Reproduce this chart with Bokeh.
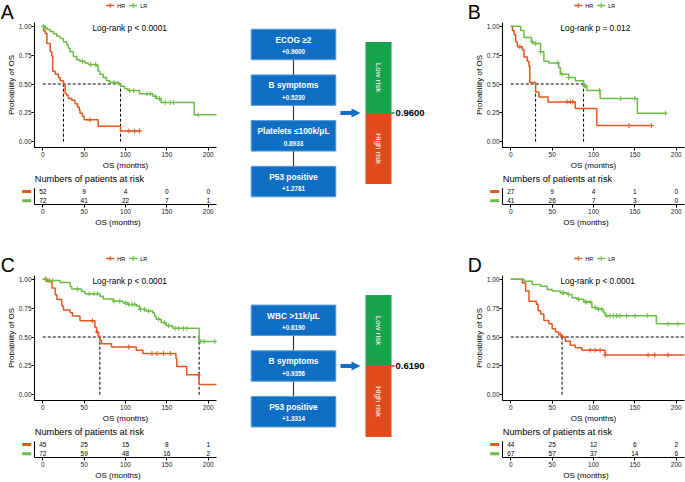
import numpy as np
from bokeh.plotting import figure
from bokeh.models import Range1d, FixedTicker, NumeralTickFormatter, Spacer
from bokeh.layouts import row, column
from bokeh.embed import file_html
from bokeh.resources import INLINE
from bokeh.core.properties import value

FONT = "Liberation Sans"
HR_COLOR = "#E8561E"
LR_COLOR = "#6CBD45"
BOX_BLUE = "#0F6FC4"
BOX_EDGE = "#5E9DD8"
LOW_GREEN = "#17A24C"
HIGH_RED = "#E14A1B"

# ---------------- data ----------------
groups = ["HR", "LR"]
risk_times = [0, 50, 100, 150, 200]

# Panel A
A_pval = "Log-rank  p < 0.0001"
A_hr_t = [0, 1, 3, 5, 9, 11, 12, 15, 19, 21, 25, 27, 29, 31, 35, 39, 42, 44, 45, 48, 50, 67, 94, 118]
A_hr_s = [1.0, 0.96, 0.94, 0.85, 0.78, 0.74, 0.61, 0.585, 0.556, 0.528, 0.495, 0.416, 0.40, 0.374, 0.36, 0.33, 0.30, 0.275, 0.247, 0.22, 0.19, 0.135, 0.093, 0.093]
A_hr_cens = [57, 104, 111, 117]
A_lr_t = [0, 3, 5, 9, 13, 17, 21, 25, 29, 31, 33, 37, 41, 45, 51, 55, 65, 67, 69, 73, 77, 81, 91, 94, 99, 103, 117, 133, 137, 143, 183, 215]
A_lr_s = [1.0, 0.986, 0.972, 0.956, 0.936, 0.913, 0.894, 0.865, 0.837, 0.81, 0.78, 0.739, 0.711, 0.697, 0.683, 0.669, 0.655, 0.613, 0.585, 0.556, 0.528, 0.514, 0.505, 0.48, 0.458, 0.444, 0.416, 0.393, 0.374, 0.34, 0.233, 0.233]
A_lr_cens = [1, 3, 48, 58, 64, 86, 92, 105, 110, 126, 130, 136, 141, 148, 154, 158, 188]
A_hr_risk = [52, 9, 4, 0, 0]
A_lr_risk = [72, 41, 22, 7, 1]
A_factors = ["ECOG \u22652", "B symptoms", "Platelets \u2264100k/\u03bcL", "P53 positive"]
A_coefs = ["+0.9600", "+0.5230", "0.8933", "+1.2781"]
A_cutoff = "0.9600"

# Panel B
B_pval = "Log-rank  p = 0.012"
B_hr_t = [0, 2, 4, 6, 8, 14, 16, 20, 22, 23, 30, 34, 45, 78, 104, 170]
B_hr_s = [1.0, 0.963, 0.926, 0.865, 0.823, 0.795, 0.733, 0.697, 0.654, 0.514, 0.43, 0.388, 0.345, 0.288, 0.14, 0.14]
B_hr_cens = [11, 68, 72, 75, 143, 170]
B_lr_t = [0, 12, 16, 25, 27, 36, 40, 46, 58, 60, 70, 78, 88, 92, 108, 153, 187]
B_lr_s = [1.0, 0.963, 0.902, 0.865, 0.85, 0.78, 0.697, 0.683, 0.64, 0.585, 0.556, 0.528, 0.486, 0.444, 0.374, 0.247, 0.247]
B_lr_cens = [26, 30, 36, 57, 62, 70, 89, 90, 107, 133, 150, 187]
B_hr_risk = [27, 9, 4, 1, 0]
B_lr_risk = [41, 26, 7, 3, 0]

# Panel C
C_pval = "Log-rank  p < 0.0001"
C_hr_t = [0, 5, 11, 15, 17, 23, 25, 33, 36, 45, 63, 65, 67, 69, 71, 83, 113, 121, 161, 162, 174, 189, 212]
C_hr_s = [1.0, 0.98, 0.924, 0.867, 0.824, 0.768, 0.734, 0.711, 0.683, 0.64, 0.584, 0.541, 0.507, 0.47, 0.442, 0.414, 0.385, 0.357, 0.314, 0.244, 0.173, 0.088, 0.088]
C_hr_cens = [4, 60, 66, 104, 132, 138, 146, 154, 188]
C_lr_t = [0, 5, 21, 33, 35, 47, 51, 69, 73, 85, 97, 103, 113, 117, 125, 133, 135, 137, 143, 149, 157, 189, 212]
C_lr_s = [1.0, 0.99, 0.972, 0.938, 0.915, 0.895, 0.875, 0.853, 0.83, 0.81, 0.796, 0.782, 0.768, 0.739, 0.725, 0.711, 0.683, 0.654, 0.626, 0.598, 0.575, 0.462, 0.462]
C_lr_cens = [3, 8, 12, 42, 56, 62, 66, 86, 93, 100, 104, 108, 111, 118, 123, 128, 140, 147, 152, 160, 164, 170, 174, 191, 195, 208]
C_hr_risk = [45, 25, 15, 8, 1]
C_lr_risk = [72, 59, 48, 16, 2]
C_factors = ["WBC >11k/\u03bcL", "B symptoms", "P53 positive"]
C_coefs = ["+0.6190", "+0.9356", "+1.3314"]
C_cutoff = "0.6190"

# Panel D
D_pval = "Log-rank  p < 0.0001"
D_hr_t = [0, 14, 18, 22, 31, 33, 36, 40, 46, 50, 54, 58, 62, 66, 72, 78, 86, 114, 212]
D_hr_s = [1.0, 0.969, 0.898, 0.81, 0.784, 0.727, 0.699, 0.642, 0.614, 0.571, 0.543, 0.52, 0.5, 0.463, 0.429, 0.406, 0.386, 0.344, 0.344]
D_hr_cens = [60, 96, 102, 108, 114, 166, 174, 190]
D_lr_t = [0, 16, 26, 36, 44, 50, 60, 68, 74, 80, 88, 98, 104, 112, 114, 176, 212]
D_lr_s = [1.0, 0.983, 0.955, 0.94, 0.912, 0.898, 0.884, 0.869, 0.841, 0.827, 0.804, 0.756, 0.741, 0.713, 0.685, 0.614, 0.614]
D_lr_cens = [62, 64, 70, 82, 90, 92, 96, 102, 106, 110, 116, 120, 124, 128, 132, 140, 150, 165, 190, 202]
D_hr_risk = [44, 25, 12, 6, 2]
D_lr_risk = [67, 57, 37, 14, 6]

# ---------------- layout constants ----------------
FW = 182                      # KM frame width (px) for x -10..210
K = FW / 220.0                # px per month
STRIP_H = 22
KM_H = 150
KM_BB = 22
PX_UNIT = 118.2
KM_YTOP = -0.05 + (KM_H - KM_BB) / PX_UNIT
RISK_H = 57
RISK_BB = 21
ROW_PX = 10.5
R_YB = 0.6
R_YT = R_YB + (RISK_H - RISK_BB) / ROW_PX
EXT = 15                      # extra px left of risk table frame
FLOW_W = 241
ROW_H = STRIP_H + KM_H + RISK_H
BL1, BR1 = 34, 10
BL3, BR3 = 35, 1


def step_at(t, s, x):
    idx = np.searchsorted(np.asarray(t), np.asarray(x), side="right") - 1
    return np.asarray(s)[idx]


def median_time(t, s):
    for ti, si in zip(t, s):
        if si <= 0.5:
            return ti
    return None


def bare(p):
    p.outline_line_color = None
    p.xgrid.visible = False
    p.ygrid.visible = False


def style_axis(ax, fs="6.5px"):
    ax.axis_line_color = "black"
    ax.axis_line_width = 1.1
    ax.major_tick_line_color = "black"
    ax.major_tick_out = 3
    ax.major_tick_in = 0
    ax.minor_tick_line_color = None
    ax.major_label_text_font = FONT
    ax.major_label_text_font_size = fs
    ax.major_label_text_color = "#222222"
    ax.major_label_standoff = 1
    ax.axis_label_text_font = FONT
    ax.axis_label_text_font_size = "8px"
    ax.axis_label_text_font_style = "normal"
    ax.axis_label_text_color = "black"
    ax.axis_label_standoff = 1


def strip_panel(letter, bl, br):
    w = bl + FW + br
    s = figure(width=w, height=STRIP_H, x_range=Range1d(0, w), y_range=Range1d(STRIP_H, 0),
               output_backend="svg", toolbar_location=None, min_border=0)
    bare(s)
    s.xaxis.visible = False
    s.yaxis.visible = False
    s.text(x=[0.3], y=[11.0], text=[letter], text_font=value(FONT), text_font_size="19.5px",
           text_align="left", text_baseline="middle", text_color="black")
    c = bl + FW / 2
    ly = 5
    cols = [HR_COLOR, LR_COLOR]
    gx = [c - 19.3, c + 3.7]
    s.segment(x0=gx, y0=[ly, ly], x1=[g + 8 for g in gx], y1=[ly, ly], line_color=cols, line_width=1.4)
    s.scatter([g + 4 for g in gx], [ly, ly], marker="cross", size=5, line_color=cols, line_width=1)
    s.text(x=[g + 11 for g in gx], y=[ly, ly], text=groups, text_font=value(FONT),
           text_font_size="5.5px", text_align="left", text_baseline="middle", text_color="black")
    return s


def km_panel(pval, hr_t, hr_s, hr_c, lr_t, lr_s, lr_c, bl, br):
    p = figure(width=bl + FW + br, height=KM_H, x_range=Range1d(-10, 210),
               y_range=Range1d(-0.05, KM_YTOP), output_backend="svg", toolbar_location=None,
               min_border_left=bl, min_border_right=br, min_border_top=0, min_border_bottom=KM_BB)
    bare(p)
    p.xaxis.ticker = FixedTicker(ticks=risk_times)
    p.yaxis.ticker = FixedTicker(ticks=[0, 0.25, 0.5, 0.75, 1.0])
    p.yaxis.formatter = NumeralTickFormatter(format="0.00")
    p.xaxis.axis_label = "OS (months)"
    p.yaxis.axis_label = "Probability of OS"
    style_axis(p.xaxis)
    style_axis(p.yaxis)
    p.yaxis.major_label_standoff = 0
    p.yaxis.axis_label_standoff = 0

    meds = [median_time(hr_t, hr_s), median_time(lr_t, lr_s)]
    valid = [m for m in meds if m is not None]
    hend = 210 if (None in meds) else max(valid)
    p.segment(x0=[0], y0=[0.5], x1=[hend], y1=[0.5], line_color="black", line_width=1, line_dash="3 2")
    p.segment(x0=valid, y0=[0] * len(valid), x1=valid, y1=[0.5] * len(valid),
              line_color="black", line_width=1, line_dash="3 2")

    p.step(hr_t, hr_s, mode="after", line_color=HR_COLOR, line_width=1.5)
    p.step(lr_t, lr_s, mode="after", line_color=LR_COLOR, line_width=1.5)
    p.scatter(hr_c, step_at(hr_t, hr_s, hr_c), marker="cross", size=5, line_color=HR_COLOR, line_width=1)
    p.scatter(lr_c, step_at(lr_t, lr_s, lr_c), marker="cross", size=5, line_color=LR_COLOR, line_width=1)

    p.text(x=[60], y=[0.988], text=[pval], text_font=value(FONT), text_font_size="8.3px",
           text_align="left", text_baseline="middle", text_color="black")
    return p


def risk_panel(hr_risk, lr_risk, bl, br):
    r = figure(width=bl - EXT + FW + EXT + br, height=RISK_H,
               x_range=Range1d(-10 - EXT / K, 210), y_range=Range1d(R_YB, R_YT),
               output_backend="svg", toolbar_location=None,
               min_border_left=bl - EXT, min_border_right=br, min_border_top=0,
               min_border_bottom=RISK_BB)
    bare(r)
    r.yaxis.visible = False
    r.xaxis.bounds = (-10, 210)
    r.xaxis.ticker = FixedTicker(ticks=risk_times)
    r.xaxis.axis_label = "OS (months)"
    style_axis(r.xaxis)

    r.segment(x0=[-10], y0=[R_YB], x1=[-10], y1=[2.33], line_color="black", line_width=1.1)
    r.segment(x0=[-24.9, -24.9], y0=[2, 1], x1=[-14.0, -14.0], y1=[2, 1],
              line_color=[HR_COLOR, LR_COLOR], line_width=3)
    r.text(x=risk_times, y=[2] * 5, text=[str(v) for v in hr_risk], text_font=value(FONT),
           text_font_size="6.5px", text_align="center", text_baseline="middle", text_color="black")
    r.text(x=risk_times, y=[1] * 5, text=[str(v) for v in lr_risk], text_font=value(FONT),
           text_font_size="6.5px", text_align="center", text_baseline="middle", text_color="black")
    r.text(x=[-9.6], y=[3.33], text=["Numbers of patients at risk"], text_font=value(FONT),
           text_font_size="9.2px", text_align="left", text_baseline="middle", text_color="black")
    return r


def flow_panel(factors, coefs, cutoff):
    f = figure(width=FLOW_W, height=ROW_H, x_range=Range1d(0, FLOW_W), y_range=Range1d(ROW_H, 0),
               output_backend="svg", toolbar_location=None, min_border=0)
    bare(f)
    f.xaxis.visible = False
    f.yaxis.visible = False

    n = len(factors)
    bh, gap, cy = 30.5, 15.2, 112.5
    bx0, bx1 = 24.7, 109.3
    top0 = cy - (n * bh + (n - 1) * gap) / 2
    tops = [top0 + i * (bh + gap) for i in range(n)]
    bots = [t + bh for t in tops]
    xm = (bx0 + bx1) / 2
    f.segment(x0=[xm] * (n - 1), y0=bots[:-1], x1=[xm] * (n - 1), y1=tops[1:],
              line_color="#333333", line_width=1.2)
    f.quad(left=[bx0] * n, right=[bx1] * n, top=tops, bottom=bots,
           fill_color=BOX_BLUE, line_color=BOX_EDGE, line_width=1)
    f.text(x=[xm] * n, y=[t + 10.5 for t in tops], text=factors, text_font=value(FONT),
           text_font_size="8.3px", text_font_style="bold", text_color="white",
           text_align="center", text_baseline="middle")
    f.text(x=[xm] * n, y=[t + 22.5 for t in tops], text=coefs, text_font=value(FONT),
           text_font_size="6.3px", text_font_style="bold", text_color="white",
           text_align="center", text_baseline="middle")
    # arrow
    f.quad(left=[114], right=[126], top=[cy - 2], bottom=[cy + 2], fill_color=BOX_BLUE, line_color=None)
    f.patch(x=[125, 134, 125], y=[cy - 4.5, cy, cy + 4.5], fill_color=BOX_BLUE, line_color=None)
    # risk bar
    bar_h = 142
    bar_l, bar_r = 139, 165
    f.quad(left=[bar_l, bar_l], right=[bar_r, bar_r], top=[cy - bar_h / 2, cy],
           bottom=[cy, cy + bar_h / 2], fill_color=[LOW_GREEN, HIGH_RED], line_color=None)
    f.text(x=[(bar_l + bar_r) / 2] * 2, y=[cy - bar_h / 4, cy + bar_h / 4], text=["Low risk", "High risk"],
           angle=-np.pi / 2, text_font=value(FONT), text_font_size="8px", text_color="white",
           text_align="center", text_baseline="middle")
    f.segment(x0=[bar_r], y0=[cy], x1=[bar_r + 3], y1=[cy], line_color="black", line_width=1)
    f.text(x=[bar_r + 4], y=[cy], text=[cutoff], text_font=value(FONT), text_font_size="9.5px",
           text_font_style="bold", text_color="black", text_align="left", text_baseline="middle")
    return f


def km_column(letter, pval, hr_t, hr_s, hr_c, lr_t, lr_s, lr_c, hr_risk, lr_risk, bl, br):
    # each figure wrapped on its own so that the column does not align their frames
    return column(row(strip_panel(letter, bl, br)),
                  row(km_panel(pval, hr_t, hr_s, hr_c, lr_t, lr_s, lr_c, bl, br)),
                  row(risk_panel(hr_risk, lr_risk, bl, br)))


colA = km_column("A", A_pval, A_hr_t, A_hr_s, A_hr_cens, A_lr_t, A_lr_s, A_lr_cens, A_hr_risk, A_lr_risk, BL1, BR1)
colB = km_column("B", B_pval, B_hr_t, B_hr_s, B_hr_cens, B_lr_t, B_lr_s, B_lr_cens, B_hr_risk, B_lr_risk, BL3, BR3)
colC = km_column("C", C_pval, C_hr_t, C_hr_s, C_hr_cens, C_lr_t, C_lr_s, C_lr_cens, C_hr_risk, C_lr_risk, BL1, BR1)
colD = km_column("D", D_pval, D_hr_t, D_hr_s, D_hr_cens, D_lr_t, D_lr_s, D_lr_cens, D_hr_risk, D_lr_risk, BL3, BR3)
flA = flow_panel(A_factors, A_coefs, A_cutoff)
flC = flow_panel(C_factors, C_coefs, C_cutoff)

row1 = row(colA, flA, colB)
row2 = row(colC, flC, colD)
layout = column(row1, Spacer(width=10, height=24), row2)

open("out.html", "w").write(file_html(layout, INLINE))
